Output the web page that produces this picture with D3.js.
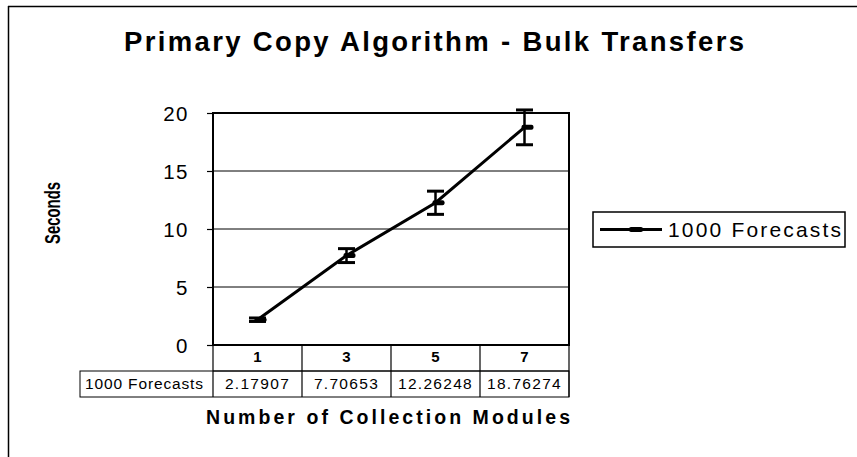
<!DOCTYPE html>
<html><head><meta charset="utf-8">
<script src="https://cdn.jsdelivr.net/npm/d3@7"></script>
<style>body{margin:0;background:#fff}svg{display:block;font-family:"Liberation Sans",Arial,sans-serif}</style>
</head><body><svg id="c" width="857" height="457"></svg>
<script>
const categories = ["1","3","5","7"];
const values = [2.17907, 7.70653, 12.26248, 18.76274];
const errors = [0.15, 0.6, 1.0, 1.5];
const yTicks = [0,5,10,15,20];
const seriesName = "1000 Forecasts";
const labels = ["2.17907","7.70653","12.26248","18.76274"];

const svg = d3.select("#c");
const L=213, R=569, T=113, B=345;
const x = d3.scaleBand().domain(categories).range([L,R]);
const y = d3.scaleLinear().domain([0,20]).range([B,T]);

// outer frame
svg.append("line").attr("x1",8).attr("x2",857).attr("y1",6.5).attr("y2",6.5).attr("stroke","#000").attr("stroke-width",1.5);
svg.append("line").attr("x1",8.5).attr("x2",8.5).attr("y1",6).attr("y2",457).attr("stroke","#000").attr("stroke-width",1.5);

svg.append("text").attr("x",124).attr("y",51)
  .attr("font-weight","bold").attr("font-size",27.5)
  .attr("textLength",620).attr("lengthAdjust","spacing")
  .text("Primary Copy Algorithm - Bulk Transfers");

// gridlines
svg.append("g").selectAll("line").data(yTicks.filter(d=>d>0 && d<20)).join("line")
  .attr("x1",L).attr("x2",R).attr("y1",d=>y(d)).attr("y2",d=>y(d)).attr("stroke","#000").attr("stroke-width",1);

// y axis
const ya = svg.append("g").attr("transform",`translate(${L},0)`)
  .call(d3.axisLeft(y).tickValues(yTicks).tickSize(6).tickPadding(18));
ya.select(".domain").remove();
ya.selectAll("line").attr("stroke","#000").attr("stroke-width",1.2);
ya.selectAll("text").attr("font-size",20.5).attr("letter-spacing",1.5).attr("font-family","Liberation Sans, Arial, sans-serif").attr("fill","#000").attr("dy","0.36em");

// plot frame
svg.append("rect").attr("x",L).attr("y",T).attr("width",R-L).attr("height",B-T)
  .attr("fill","none").attr("stroke","#000").attr("stroke-width",2);

// table
const rowH = 26;
const tbl = svg.append("g");
tbl.append("line").attr("x1",L).attr("x2",R).attr("y1",B+rowH).attr("y2",B+rowH).attr("stroke","#000");
tbl.append("rect").attr("x",80).attr("y",B+rowH).attr("width",R-80).attr("height",rowH).attr("fill","none").attr("stroke","#000");
tbl.selectAll(".v").data(categories.concat(["end"])).join("line")
  .attr("x1",(d,i)=>L+i*x.bandwidth()).attr("x2",(d,i)=>L+i*x.bandwidth())
  .attr("y1",B).attr("y2",B+2*rowH).attr("stroke","#000").attr("stroke-width",1.2);
tbl.selectAll(".cat").data(categories).join("text")
  .attr("x",d=>x(d)+x.bandwidth()/2).attr("y",B+17).attr("text-anchor","middle")
  .attr("font-size",15).attr("font-weight","bold").text(d=>d);
tbl.selectAll(".val").data(labels).join("text")
  .attr("x",(d,i)=>x(categories[i])+x.bandwidth()/2).attr("y",B+rowH+18).attr("text-anchor","middle")
  .attr("font-size",15.5).attr("letter-spacing",1.3).text(d=>d);
tbl.append("text").attr("x",85).attr("y",B+rowH+18).attr("font-size",15.5)
  .attr("textLength",118).attr("lengthAdjust","spacing").text(seriesName);

// axis titles
svg.append("text").attr("transform","translate(60,213) rotate(-90)").attr("text-anchor","middle")
  .attr("font-weight","bold").attr("font-size",21.5)
  .attr("textLength",62).attr("lengthAdjust","spacingAndGlyphs").text("Seconds");
svg.append("text").attr("x",206).attr("y",424)
  .attr("font-weight","bold").attr("font-size",19.5)
  .attr("textLength",364).attr("lengthAdjust","spacing").text("Number of Collection Modules");

// line
const cx = d=>x(d)+x.bandwidth()/2;
const pts = categories.map((c,i)=>[cx(c), y(values[i])]);
svg.append("path").attr("d",d3.line()(pts)).attr("fill","none").attr("stroke","#000").attr("stroke-width",3);

// error bars
const eb = svg.append("g");
categories.forEach((c,i)=>{
  const X = cx(c), hi = y(values[i]+errors[i]), lo = y(values[i]-errors[i]);
  eb.append("line").attr("x1",X).attr("x2",X).attr("y1",hi).attr("y2",lo).attr("stroke","#000").attr("stroke-width",2.5);
  [hi,lo].forEach(v=>eb.append("line").attr("x1",X-8.5).attr("x2",X+8.5).attr("y1",v).attr("y2",v).attr("stroke","#000").attr("stroke-width",3));
  eb.append("rect").attr("x",X-3).attr("y",y(values[i])-2.5).attr("width",12).attr("height",5).attr("rx",2).attr("fill","#000");
});

// legend
const lg = svg.append("g");
lg.append("rect").attr("x",593).attr("y",212).attr("width",252).attr("height",35).attr("fill","#fff").attr("stroke","#000").attr("stroke-width",1.5);
lg.append("line").attr("x1",600).attr("x2",662).attr("y1",229.5).attr("y2",229.5).attr("stroke","#000").attr("stroke-width",3);
lg.append("rect").attr("x",629).attr("y",227).attr("width",14).attr("height",5).attr("rx",2).attr("fill","#000");
lg.append("text").attr("x",668).attr("y",237).attr("font-size",21)
  .attr("textLength",173).attr("lengthAdjust","spacing").text(seriesName);
</script></body></html>
